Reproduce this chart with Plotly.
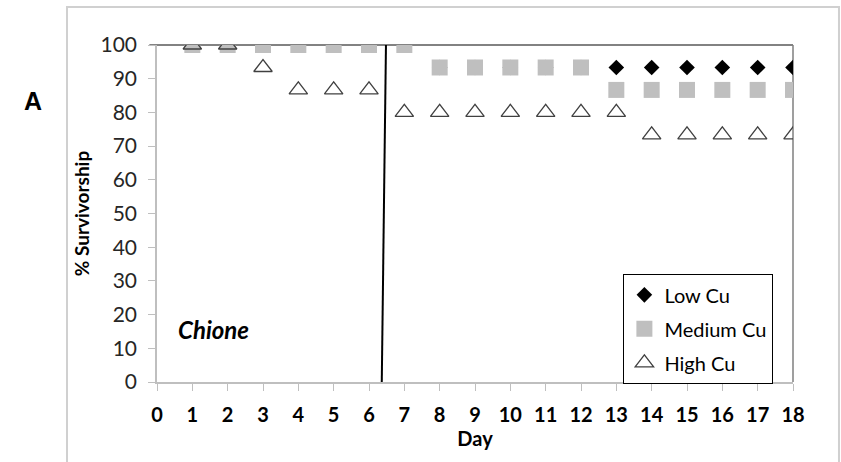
import plotly.graph_objects as go

days = list(range(1, 19))
low_cu = [100]*7 + [93.33]*11
medium_cu = [100]*7 + [93.33]*5 + [86.67]*6
high_cu = [100, 100, 93.33, 86.67, 86.67, 86.67] + [80]*7 + [73.33]*5
x_ticks = list(range(0, 19))
y_ticks = list(range(0, 101, 10))
divider_x = [6.36, 6.48]
divider_y = [-1, 100]

FONT = "Lato"

fig = go.Figure()
fig.add_trace(go.Scatter(x=days, y=low_cu, mode="markers", name="Low Cu", legendgroup="a",
                         marker=dict(symbol="diamond", size=12, color="black")))
fig.add_trace(go.Scatter(x=days, y=medium_cu, mode="markers", name="Medium Cu", legendgroup="b",
                         marker=dict(symbol="square", size=16, color="#bfbfbf")))
fig.add_trace(go.Scatter(x=days, y=high_cu, mode="markers", name="High Cu", legendgroup="c",
                         marker=dict(symbol="triangle-up-open", size=16, color="#404040",
                                     line=dict(width=1.3, color="#404040"))))

# plot frame: dark top and right lines
fig.add_shape(type="line", xref="paper", yref="paper", x0=-0.012, x1=1, y0=1, y1=1,
              line=dict(color="#595959", width=1.5), layer="below")
fig.add_shape(type="line", xref="paper", yref="paper", x0=1, x1=1, y0=0, y1=1,
              line=dict(color="#7f7f7f", width=1.5), layer="below")
# divider line
fig.add_shape(type="line", xref="x", yref="y", x0=divider_x[0], x1=divider_x[1],
              y0=divider_y[0], y1=divider_y[1], line=dict(color="black", width=2))
# outer box
fig.add_shape(type="rect", xref="paper", yref="paper", x0=-0.1415, x1=1.0723, y0=-0.3, y1=1.1128,
              line=dict(color="#d0d0d0", width=2), fillcolor="rgba(0,0,0,0)")

fig.add_annotation(text="<b>A</b>", xref="paper", yref="paper", x=-0.213, y=0.88,
                   showarrow=False, font=dict(family="Liberation Sans", size=25, color="black"))
fig.add_annotation(text="<b><i>Chione</i></b>", xref="x", yref="y", x=1.61, y=15.5,
                   showarrow=False, font=dict(family=FONT, size=24, color="black"))

fig.update_layout(
    width=841, height=462,
    margin=dict(l=157, r=48, t=45, b=80),
    paper_bgcolor="white", plot_bgcolor="white",
    font=dict(family=FONT, color="black"),
    showlegend=True,
    legend=dict(x=0.733, y=0.32, xanchor="left", yanchor="top",
                bordercolor="black", borderwidth=1.2, bgcolor="white",
                font=dict(family=FONT, size=20, color="black"),
                tracegroupgap=5, itemwidth=30),
    xaxis=dict(range=[0, 18], tickvals=x_ticks, showgrid=False, zeroline=False,
               showline=True, linecolor="#bfbfbf", linewidth=1.5,
               ticks="outside", ticklen=7, tickcolor="#bfbfbf",
               tickfont=dict(family=FONT, size=20, color="black", weight="bold"),
               ticklabelstandoff=7,
               title=dict(text="<b>Day</b>", font=dict(family=FONT, size=20, color="black"), standoff=4)),
    yaxis=dict(range=[0, 100], tickvals=y_ticks, showgrid=False, zeroline=False,
               showline=True, linecolor="#bfbfbf", linewidth=1.5,
               ticks="outside", ticklen=7, tickcolor="#bfbfbf",
               tickfont=dict(family=FONT, size=21, color="#262626"),
               ticklabelstandoff=7,
               title=dict(text="<b>% Survivorship</b>", font=dict(family=FONT, size=19, color="black"), standoff=6)),
)

fig.write_html("out.html")
